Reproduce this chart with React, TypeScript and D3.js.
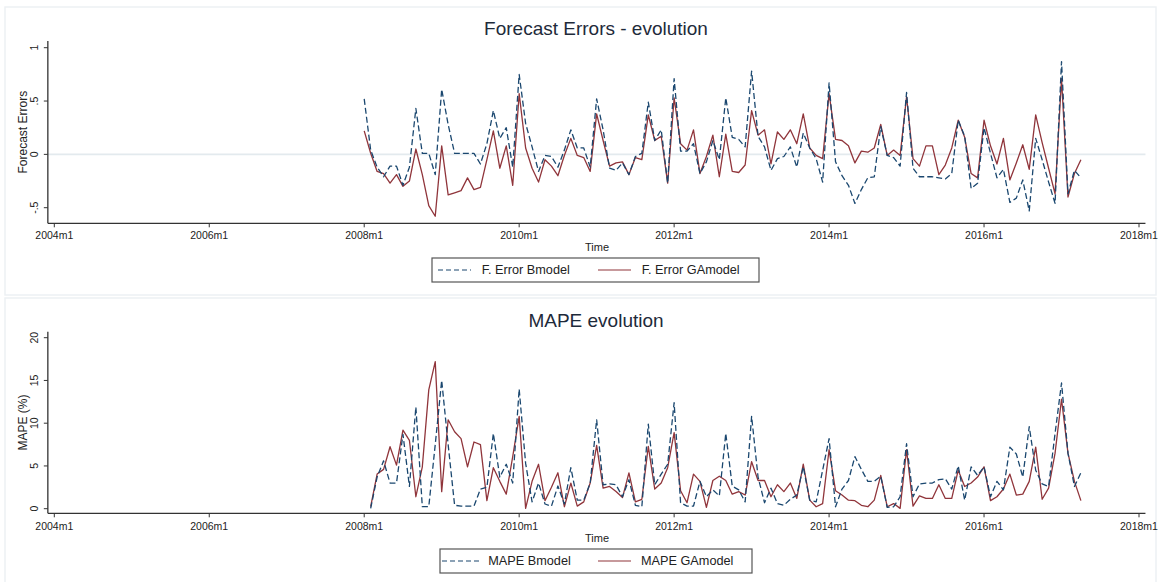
import React from "react";
import * as d3 from "d3";

// Month index: 0 = 2004m1
const xTickLabels = ["2004m1", "2006m1", "2008m1", "2010m1", "2012m1", "2014m1", "2016m1", "2018m1"];
const xTickMonths = [0, 24, 48, 72, 96, 120, 144, 168];

const errStart = 48; // 2008m1
const errB = [
  0.52, 0.04, -0.12, -0.21, -0.11, -0.11, -0.29, -0.12, 0.43, 0.01, 0.01, -0.19,
  0.61, 0.28, 0.01, 0.01, 0.01, 0.01, -0.09, 0.10, 0.41, 0.15, 0.25, -0.12,
  0.75, 0.29, 0.07, -0.16, -0.01, -0.02, -0.12, 0.04, 0.23, 0.06, 0.06, -0.12,
  0.52, 0.23, -0.13, -0.15, -0.08, -0.19, -0.02, 0.01, 0.49, 0.13, 0.23, -0.27,
  0.71, 0.03, 0.03, 0.10, -0.18, -0.07, 0.13, -0.05, 0.53, 0.16, 0.14, 0.07,
  0.78, 0.17, 0.07, -0.15, -0.04, -0.02, 0.07, -0.12, 0.20, 0.06, -0.04, -0.26,
  0.67, -0.07, -0.20, -0.29, -0.46, -0.33, -0.22, -0.21, 0.26, -0.01, -0.03, -0.11,
  0.58, -0.13, -0.21, -0.21, -0.21, -0.22, -0.23, -0.18, 0.32, 0.17, -0.32, -0.27,
  0.25, 0.01, -0.22, -0.14, -0.45, -0.41, -0.24, -0.53, 0.15, -0.05, -0.26, -0.46,
  0.87, -0.37, -0.15, -0.22,
];
const errGA = [
  0.22, 0.01, -0.16, -0.18, -0.27, -0.19, -0.30, -0.25, 0.05, -0.19, -0.48, -0.58,
  0.08, -0.38, -0.36, -0.34, -0.22, -0.33, -0.31, -0.05, 0.22, -0.13, 0.08, -0.29,
  0.57, 0.06, -0.13, -0.26, -0.05, -0.11, -0.20, -0.01, 0.15, -0.01, -0.03, -0.16,
  0.38, 0.13, -0.11, -0.08, -0.07, -0.19, -0.03, -0.05, 0.37, 0.13, 0.17, -0.27,
  0.53, 0.10, 0.04, 0.23, -0.18, -0.02, 0.18, -0.21, 0.19, -0.16, -0.17, -0.10,
  0.41, 0.18, 0.23, -0.09, 0.21, 0.14, 0.23, 0.10, 0.38, 0.06, -0.01, -0.04,
  0.57, 0.14, 0.13, 0.08, -0.08, 0.03, 0.02, 0.06, 0.28, -0.01, 0.04, -0.01,
  0.54, -0.04, -0.11, 0.08, 0.08, -0.19, -0.10, 0.06, 0.32, 0.16, -0.18, -0.22,
  0.32, 0.08, -0.09, 0.15, -0.24, -0.08, 0.09, -0.14, 0.37, 0.11, -0.13, -0.37,
  0.71, -0.40, -0.18, -0.05,
];

const mapeStart = 49; // 2008m2
const mapeB = [
  0.04, 3.7, 5.6, 3.0, 3.0, 8.7, 2.6, 11.9, 0.24, 0.24, 7.5,
  15.0, 7.5, 0.4, 0.3, 0.3, 0.3, 2.3, 2.5, 8.8, 3.7, 5.2, 3.0,
  14.0, 5.3, 0.8, 3.0, 0.55, 0.3, 2.65, 0.55, 4.8, 1.0, 1.0, 3.0,
  10.4, 2.8, 2.9, 2.8, 1.4, 3.4, 0.4, 0.23, 9.9, 2.8, 4.05, 5.2,
  12.4, 0.7, 0.3, 0.3, 3.2, 1.4, 2.2, 1.5, 8.8, 2.65, 2.2, 0.8,
  10.8, 3.7, 0.7, 2.4, 0.6, 0.4, 1.1, 1.6, 4.9, 1.0, 0.8, 4.5,
  8.2, 0.23, 2.3, 3.3, 6.1, 4.6, 3.2, 3.2, 3.8, 0.16, 0.23, 1.4,
  7.6, 1.4, 2.9, 3.0, 3.0, 3.4, 3.5, 2.3, 5.0, 1.0, 4.9, 3.9,
  4.9, 1.4, 3.2, 2.2, 7.2, 6.4, 3.7, 9.6, 4.5, 2.9, 2.6, 8.8,
  14.7, 6.5, 2.6, 4.2,
];
const mapeGA = [
  0.23, 4.05, 4.6, 7.25, 5.1, 9.2, 8.0, 1.4, 4.9, 13.9, 17.2,
  2.0, 10.4, 9.0, 8.2, 4.9, 7.8, 7.5, 0.94, 4.8, 3.2, 1.7, 6.1,
  10.8, 0.04, 3.2, 5.2, 0.94, 2.5, 4.2, 0.23, 3.0, 0.3, 0.8, 3.0,
  7.4, 2.4, 2.6, 2.0, 1.3, 4.2, 0.8, 1.1, 7.3, 2.3, 3.0, 4.8,
  8.9, 2.1, 0.7, 4.05, 3.2, 0.16, 3.3, 3.8, 3.3, 1.7, 2.0, 1.6,
  5.5, 3.3, 3.3, 1.4, 2.8, 2.0, 3.0, 1.2, 5.2, 1.0, 0.23, 0.6,
  6.9, 2.1, 1.6, 1.0, 0.94, 0.4, 0.23, 1.0, 3.9, 0.23, 0.6, 0.04,
  6.9, 0.3, 1.5, 1.2, 1.2, 2.8, 1.2, 1.2, 4.5, 2.6, 3.0, 3.7,
  4.9, 0.94, 1.4, 2.3, 4.05, 1.6, 1.7, 3.2, 7.2, 1.1, 2.4, 6.5,
  12.8, 6.5, 3.2, 0.94,
];

const errTicks = [-0.5, 0, 0.5, 1];
const errTickLabels = ["-.5", "0", ".5", "1"];
const mapeTicks = [0, 5, 10, 15, 20];

const NAVY = "#1a476f";
const MAROON = "#90353b";
const FONT = "'Liberation Sans', Arial, Helvetica, sans-serif";

const x = d3.scaleLinear().domain([0, 168]).range([54.3, 1139]);

type PanelProps = {
  title: string;
  titleY: number;
  yTitle: string;
  y: d3.ScaleLinear<number, number>;
  yAxisTop: number;
  yAxisBottom: number;
  ticks: number[];
  tickLabels: string[];
  s1: number[];
  s2: number[];
  start: number;
  zeroLine: boolean;
  tickLabelY: number;
  timeY: number;
  legend: { x0: number; x1: number; y0: number; y1: number; d0: number; d1: number; t1: number; s0: number; s1: number; t2: number; l1: string; l2: string };
};

function Panel(p: PanelProps) {
  const line = d3
    .line<number>()
    .x((_, i) => x(p.start + i))
    .y((v) => p.y(v));
  const xl = x(-1);
  const xr = x(169);
  const yc = (p.yAxisTop + p.yAxisBottom) / 2;
  const lg = p.legend;
  const lgCy = (lg.y0 + lg.y1) / 2;
  return (
    <g>
      <text x={596} y={p.titleY} textAnchor="middle" dominantBaseline="central" fontSize={19} fill="#1e2a3a" fontFamily={FONT}>
        {p.title}
      </text>
      {p.zeroLine && (
        <line x1={xl} x2={xr} y1={p.y(0)} y2={p.y(0)} stroke="#e3eaee" strokeWidth={1.6} />
      )}
      <line x1={xl} x2={xl} y1={p.yAxisTop} y2={p.yAxisBottom} stroke="#333" strokeWidth={1.3} />
      {p.ticks.map((t, i) => (
        <g key={"yt" + i}>
          <line x1={xl - 4} x2={xl} y1={p.y(t)} y2={p.y(t)} stroke="#333" strokeWidth={1} />
          <text
            transform={`translate(${xl - 14},${p.y(t)}) rotate(-90)`}
            textAnchor="middle"
            dominantBaseline="central"
            fontSize={10.5}
            fill="#222"
            fontFamily={FONT}
          >
            {p.tickLabels[i]}
          </text>
        </g>
      ))}
      <text
        transform={`translate(22.7,${yc}) rotate(-90)`}
        textAnchor="middle"
        dominantBaseline="central"
        fontSize={12}
        fill="#222"
        fontFamily={FONT}
      >
        {p.yTitle}
      </text>
      <line x1={xl} x2={xr} y1={p.yAxisBottom} y2={p.yAxisBottom} stroke="#333" strokeWidth={1.3} />
      {xTickMonths.map((m, i) => (
        <g key={"xt" + i}>
          <line x1={x(m)} x2={x(m)} y1={p.yAxisBottom} y2={p.yAxisBottom + 4} stroke="#333" strokeWidth={1} />
          <text x={x(m)} y={p.tickLabelY} textAnchor="middle" dominantBaseline="central" fontSize={10.5} fill="#222" fontFamily={FONT}>
            {xTickLabels[i]}
          </text>
        </g>
      ))}
      <text x={597} y={p.timeY} textAnchor="middle" dominantBaseline="central" fontSize={11} fill="#222" fontFamily={FONT}>
        Time
      </text>
      <path d={line(p.s2) || ""} fill="none" stroke={MAROON} strokeWidth={1.3} strokeLinejoin="round" />
      <path d={line(p.s1) || ""} fill="none" stroke={NAVY} strokeWidth={1.3} strokeDasharray="6,3" strokeLinejoin="round" />
      <rect x={lg.x0} y={lg.y0} width={lg.x1 - lg.x0} height={lg.y1 - lg.y0} fill="#fff" stroke="#555" strokeWidth={1.2} />
      <line x1={lg.d0} x2={lg.d1} y1={lgCy} y2={lgCy} stroke={NAVY} strokeWidth={1.2} strokeDasharray="5,3" />
      <text x={lg.t1} y={lgCy} dominantBaseline="central" fontSize={12.7} fill="#222" fontFamily={FONT}>
        {lg.l1}
      </text>
      <line x1={lg.s0} x2={lg.s1} y1={lgCy} y2={lgCy} stroke={MAROON} strokeWidth={1.2} />
      <text x={lg.t2} y={lgCy} dominantBaseline="central" fontSize={12.7} fill="#222" fontFamily={FONT}>
        {lg.l2}
      </text>
    </g>
  );
}

export default function App() {
  const yTop = d3.scaleLinear().domain([-0.5, 1]).range([207.7, 47.7]);
  const yBot = d3.scaleLinear().domain([0, 20]).range([508.7, 337.7]);
  return (
    <svg width={1159} height={582} style={{ position: "absolute", left: 0, top: 0, background: "#fff" }}>
      <rect x={0} y={0} width={1159} height={582} fill="#fff" />
      <rect x={5} y={7} width={1151} height={288} fill="none" stroke="#edf1f4" strokeWidth={1.5} />
      <rect x={5} y={298} width={1151} height={290} fill="none" stroke="#edf1f4" strokeWidth={1.5} />
      <Panel
        title="Forecast Errors - evolution"
        titleY={28}
        yTitle="Forecast Errors"
        y={yTop}
        yAxisTop={41}
        yAxisBottom={223.3}
        ticks={errTicks}
        tickLabels={errTickLabels}
        s1={errB}
        s2={errGA}
        start={errStart}
        zeroLine={true}
        tickLabelY={235}
        timeY={247}
        legend={{ x0: 432, x1: 759, y0: 258, y1: 282, d0: 438, d1: 471, t1: 481.7, s0: 598, s1: 631, t2: 641.7, l1: "F. Error Bmodel", l2: "F. Error GAmodel" }}
      />
      <Panel
        title="MAPE evolution"
        titleY={320}
        yTitle="MAPE (%)"
        y={yBot}
        yAxisTop={331.7}
        yAxisBottom={513.3}
        ticks={mapeTicks}
        tickLabels={mapeTicks.map(String)}
        s1={mapeB}
        s2={mapeGA}
        start={mapeStart}
        zeroLine={false}
        tickLabelY={526}
        timeY={538}
        legend={{ x0: 440, x1: 752, y0: 549, y1: 573, d0: 442, d1: 482, t1: 488.3, s0: 598, s1: 631, t2: 641, l1: "MAPE Bmodel", l2: "MAPE GAmodel" }}
      />
    </svg>
  );
}
